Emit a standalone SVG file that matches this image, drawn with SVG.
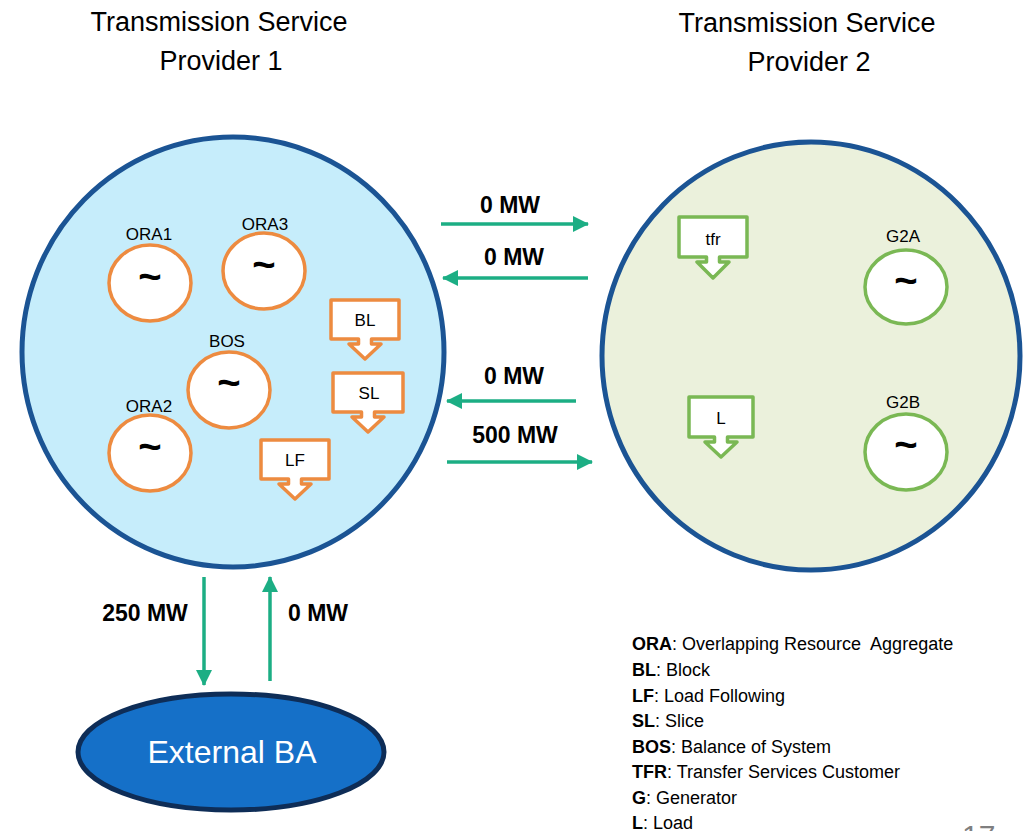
<svg xmlns="http://www.w3.org/2000/svg" width="1030" height="831" viewBox="0 0 1030 831">
<style>
.title{font-family:"Liberation Sans",Arial,sans-serif;font-size:27px;fill:#000;text-anchor:middle}
.lbl{font-family:"Liberation Sans",Arial,sans-serif;font-size:17px;fill:#000;text-anchor:middle}
.tilde{font-family:"Liberation Sans",Arial,sans-serif;font-size:40px;font-weight:bold;fill:#000;text-anchor:middle}
.mw{font-family:"Liberation Sans",Arial,sans-serif;font-size:23px;font-weight:bold;fill:#000;text-anchor:middle}
.leg{font-family:"Liberation Sans",Arial,sans-serif;font-size:18px;fill:#000;white-space:pre}
.gen1{fill:#fff;stroke:#ED8B40;stroke-width:3.5}
.gen2{fill:#fff;stroke:#7AB854;stroke-width:3.5}
.co1{fill:#fff;stroke:#ED8B40;stroke-width:3.5;stroke-linejoin:round}
.co2{fill:#fff;stroke:#7AB854;stroke-width:3.5;stroke-linejoin:round}
.flow{stroke:#1CAE84;stroke-width:3.5;fill:none;marker-end:url(#ah)}
</style>
<defs>
<marker id="ah" markerUnits="userSpaceOnUse" markerWidth="16" markerHeight="16" refX="15" refY="8" orient="auto">
<path d="M0,0 L16,8 L0,16 Z" fill="#1CAE84"/>
</marker>
</defs>
<rect width="1030" height="831" fill="#fff"/>

<g id="title1">
<text class="title" x="219" y="31">Transmission Service</text>
<text class="title" x="221" y="70">Provider 1</text>
</g>
<g id="title2">
<text class="title" x="807" y="32">Transmission Service</text>
<text class="title" x="809" y="71">Provider 2</text>
</g>

<g id="tsp1">
<ellipse cx="233" cy="352" rx="211" ry="215" fill="#C6EDFB" stroke="#1B5494" stroke-width="5"/>
</g>
<g id="tsp2">
<ellipse cx="811" cy="356" rx="209" ry="214" fill="#EBF1DC" stroke="#1B5494" stroke-width="5"/>
</g>

<g id="ora1">
<text class="lbl" x="149" y="240">ORA1</text>
<ellipse class="gen1" cx="150" cy="283" rx="41" ry="38"/>
<text class="tilde" x="150" y="290">~</text>
</g>
<g id="ora3">
<text class="lbl" x="265" y="230">ORA3</text>
<ellipse class="gen1" cx="264" cy="271" rx="41" ry="38"/>
<text class="tilde" x="264" y="278">~</text>
</g>
<g id="bos">
<text class="lbl" x="227" y="347">BOS</text>
<ellipse class="gen1" cx="229" cy="390" rx="41" ry="38"/>
<text class="tilde" x="229" y="396">~</text>
</g>
<g id="ora2">
<text class="lbl" x="149" y="412">ORA2</text>
<ellipse class="gen1" cx="150" cy="453" rx="41" ry="38"/>
<text class="tilde" x="150" y="460">~</text>
</g>

<g id="bl">
<path class="co1" d="M331,300 H399 V339 H371.5 V344 H381 L365,359 L349,344 H358.5 V339 H331 Z"/>
<text class="lbl" x="365" y="326">BL</text>
</g>
<g id="sl">
<path class="co1" d="M333,373 H403 V412 H374.5 V417 H384 L368,432 L352,417 H361.5 V412 H333 Z"/>
<text class="lbl" x="369" y="399">SL</text>
</g>
<g id="lf">
<path class="co1" d="M261,440 H329 V479 H301.5 V484 H311 L295,499 L279,484 H288.5 V479 H261 Z"/>
<text class="lbl" x="295" y="466">LF</text>
</g>

<g id="tfr">
<path class="co2" d="M679,217 H747 V257 H719.5 V262 H729 L713,278 L697,262 H706.5 V257 H679 Z"/>
<text class="lbl" x="713" y="245">tfr</text>
</g>
<g id="g2a">
<text class="lbl" x="903" y="242">G2A</text>
<ellipse class="gen2" cx="906" cy="287" rx="41" ry="37"/>
<text class="tilde" x="906" y="294">~</text>
</g>
<g id="l">
<path class="co2" d="M689,397 H753 V437 H727.5 V442 H737 L721,457 L705,442 H714.5 V437 H689 Z"/>
<text class="lbl" x="721" y="424">L</text>
</g>
<g id="g2b">
<text class="lbl" x="903" y="408">G2B</text>
<ellipse class="gen2" cx="906" cy="452" rx="41" ry="38"/>
<text class="tilde" x="906" y="458">~</text>
</g>

<g id="extba">
<ellipse cx="231" cy="752" rx="153" ry="58" fill="#1570C8" stroke="#0E2D57" stroke-width="5"/>
<text x="232" y="763" font-family="'Liberation Sans',Arial,sans-serif" font-size="32" fill="#fff" text-anchor="middle">External BA</text>
</g>

<g id="connectors">
<line class="flow" x1="441" y1="224" x2="588" y2="224"/>
<line class="flow" x1="588" y1="278" x2="443" y2="278"/>
<line class="flow" x1="576" y1="401" x2="447" y2="401"/>
<line class="flow" x1="447" y1="462" x2="592" y2="462"/>
<line class="flow" x1="204" y1="577" x2="204" y2="685"/>
<line class="flow" x1="270" y1="681" x2="270" y2="577"/>
<text class="mw" x="510" y="213">0 MW</text>
<text class="mw" x="514" y="265">0 MW</text>
<text class="mw" x="514" y="384">0 MW</text>
<text class="mw" x="515" y="443">500 MW</text>
<text class="mw" x="145" y="621">250 MW</text>
<text class="mw" x="318" y="621">0 MW</text>
</g>

<g id="legend">
<text class="leg" x="632" y="650"><tspan font-weight="bold">ORA</tspan>: Overlapping Resource  Aggregate</text>
<text class="leg" x="632" y="676"><tspan font-weight="bold">BL</tspan>: Block</text>
<text class="leg" x="632" y="702"><tspan font-weight="bold">LF</tspan>: Load Following</text>
<text class="leg" x="632" y="727"><tspan font-weight="bold">SL</tspan>: Slice</text>
<text class="leg" x="632" y="753"><tspan font-weight="bold">BOS</tspan>: Balance of System</text>
<text class="leg" x="632" y="778"><tspan font-weight="bold">TFR</tspan>: Transfer Services Customer</text>
<text class="leg" x="632" y="804"><tspan font-weight="bold">G</tspan>: Generator</text>
<text class="leg" x="632" y="829"><tspan font-weight="bold">L</tspan>: Load</text>
</g>
<text x="962" y="846" font-family="'Liberation Sans',Arial,sans-serif" font-size="30" fill="#7F7F7F">17</text>
</svg>
